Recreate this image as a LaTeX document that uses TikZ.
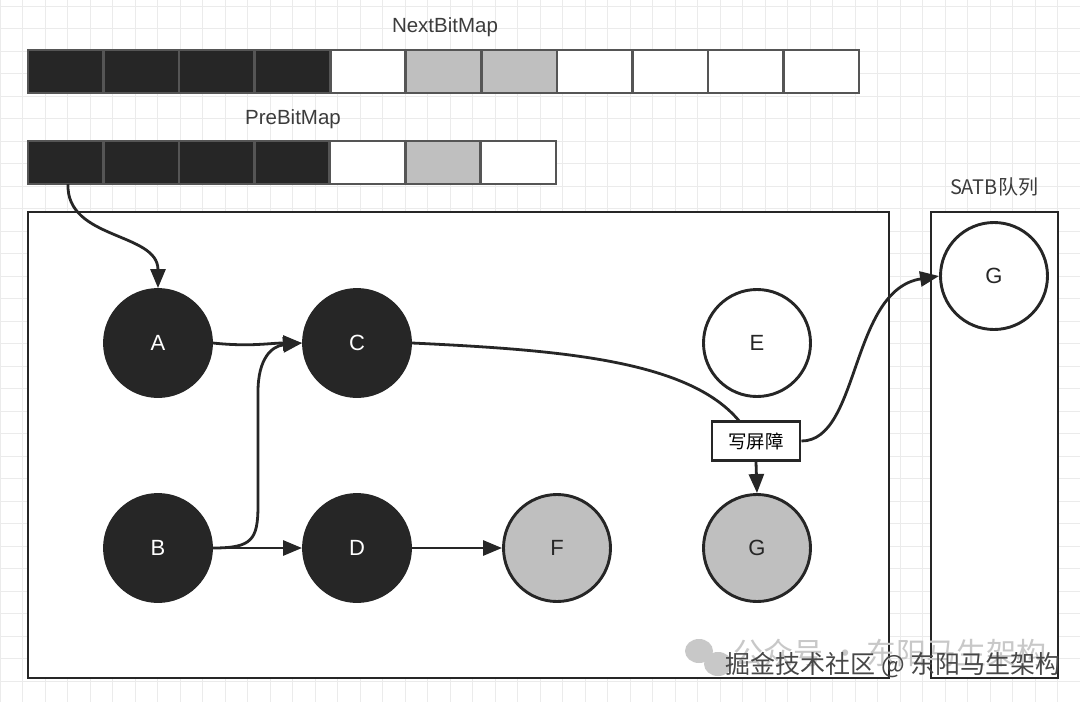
\documentclass[tikz,border=0pt]{standalone}
\usepackage{fontspec}
\setmainfont{Liberation Sans}
\newfontfamily\cjk{Noto Sans CJK SC}
\usetikzlibrary{arrows.meta}
\definecolor{ink}{HTML}{262626}
\definecolor{cellgray}{HTML}{BFBFBF}
\definecolor{cellline}{HTML}{555555}
\definecolor{gridc}{HTML}{EBEBEB}
\definecolor{wmgray}{HTML}{C8C8C8}
\tikzset{
  cell/.style={draw=cellline, line width=2.6pt, minimum width=75.5pt, minimum height=43pt, inner sep=0pt, outer sep=0pt},
  vertex/.style={circle, draw=ink, line width=2.9pt, minimum size=107pt, inner sep=0pt, font=\fontsize{22}{26}\selectfont},
  blackv/.style={vertex, fill=ink, text=white},
  grayv/.style={vertex, fill=cellgray, text=ink},
  whitev/.style={vertex, fill=white, text=ink},
  conn/.style={draw=ink, line width=2.8pt, -{Triangle[length=19pt,width=15pt]}},
  plainconn/.style={draw=ink, line width=2.8pt},
  frame/.style={draw=ink, line width=2.9pt, fill=white},
  lbl/.style={font=\fontsize{20.5}{24}\selectfont, text=ink!90},
  barrier/.style={draw=ink, line width=2.9pt, fill=white, minimum width=88pt, minimum height=39pt, inner sep=0pt, font=\cjk\fontsize{18.5}{20}\selectfont}
}
\begin{document}
\begin{tikzpicture}[x=1pt,y=-1pt]
\useasboundingbox (0,0) rectangle (1080,702);
\fill[white] (0,0) rectangle (1080,702);
\foreach \x in {0,22.5,...,1080} \draw[gridc, line width=0.9pt] (\x,0) -- (\x,702);
\foreach \y in {6,28.5,...,702} \draw[gridc, line width=0.9pt] (0,\y) -- (1080,\y);

% bitmaps
\node[lbl] (nextlbl) at (445,27) {NextBitMap};
\foreach \i/\c in {0/ink,1/ink,2/ink,3/ink,4/white,5/cellgray,6/cellgray,7/white,8/white,9/white,10/white}
  \node[cell, fill=\c] (n\i) at (28+75.55*\i+37.78, 71.5) {};
\node[lbl] (prelbl) at (293,119) {PreBitMap};
\foreach \i/\c in {0/ink,1/ink,2/ink,3/ink,4/white,5/cellgray,6/white}
  \node[cell, fill=\c] (p\i) at (28+75.45*\i+37.73, 162.5) {};

% frames
\draw[frame] (28,212) rectangle (889,678);
\draw[frame] (931,212) rectangle (1058,678);
\node[font=\cjk\fontsize{20}{22}\selectfont, text=ink!90] (satblbl) at (994,187) {SATB队列};

% vertices
\node[blackv] (A) at (158,343) {A};
\node[blackv] (C) at (357,343) {C};
\node[whitev] (E) at (757,343) {E};
\node[blackv] (B) at (158,548) {B};
\node[blackv] (D) at (357,548) {D};
\node[grayv] (F) at (557,548) {F};
\node[grayv] (G) at (757,548) {G};
\node[whitev] (SG) at (994,276) {G};
\node[barrier] (wb) at (756,441) {写屏障};

% connectors
\coordinate (pstart) at (68,184);
\draw[conn] (pstart) .. controls (66,240) and (158,232) .. (A.north);
\draw[conn] (A.east) .. controls (250,347) and (270,343) .. (C.west);
\draw[conn] (B.east) .. controls (252,548) and (258,540) .. (258,505) -- (258,392) .. controls (258,358) and (272,346) .. (C.west);
\draw[conn] (B.east) -- (D.west);
\draw[conn] (D.east) -- (F.west);
\coordinate (wbin) at (740,422);
\draw[plainconn] (C.east) .. controls (560,350) and (690,360) .. (wbin);
\draw[conn] (wb.south) -- (G.north);
\draw[conn] (wb.east) .. controls (860,441) and (850,290) .. (SG.west);

% watermark
\fill[wmgray] (699,651) ellipse (14pt and 12pt);
\fill[wmgray] (718,664) ellipse (14pt and 12pt);
\node[font=\cjk\fontsize{30}{32}\selectfont, text=wmgray, anchor=west] (wm1) at (730,653) {公众号 · 东阳马生架构};
\node[font=\cjk\fontsize{25}{28}\selectfont, text=ink!85, anchor=west] (wm2) at (722,665) {掘金技术社区 @ 东阳马生架构};
\end{tikzpicture}
\end{document}
